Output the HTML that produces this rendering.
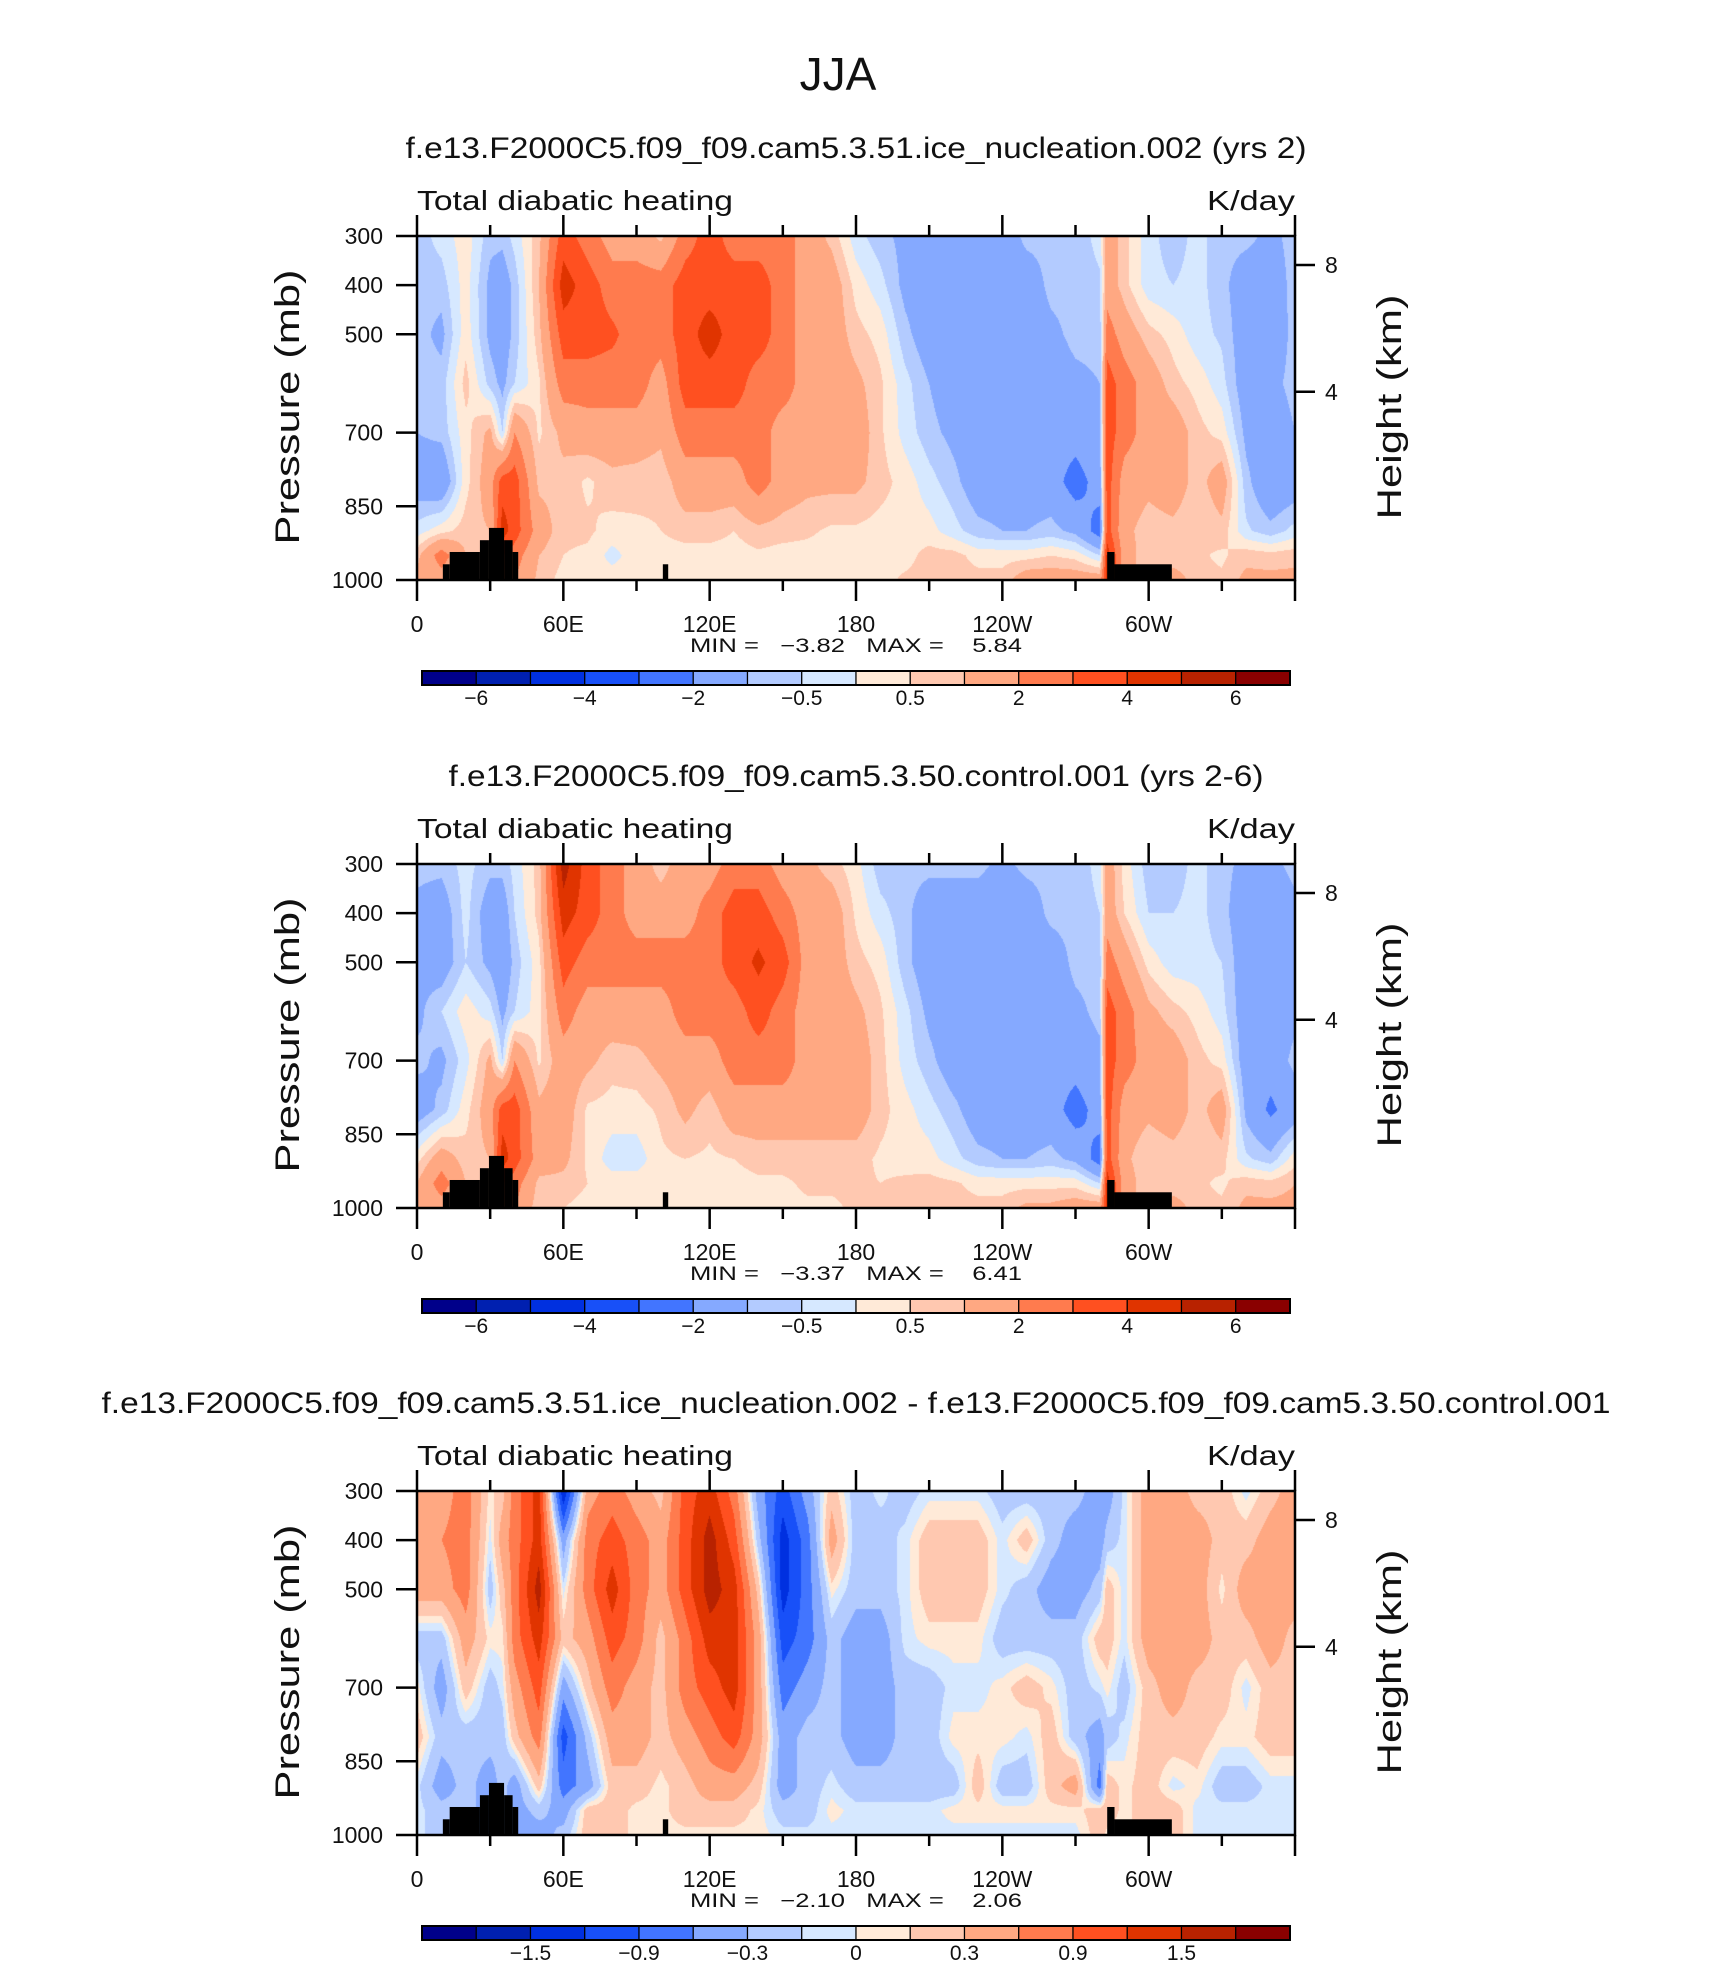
<!DOCTYPE html>
<html><head><meta charset="utf-8"><style>
html,body{margin:0;padding:0;background:#fff;}
#wrap{position:relative;width:1710px;height:1967px;overflow:hidden;}
canvas{position:absolute;}
svg{position:absolute;left:0;top:0;}
text{font-family:"Liberation Sans",sans-serif;fill:#111;}
</style></head><body>
<div id="wrap">
<canvas id="c0" width="878" height="344" style="left:417px;top:236px"></canvas>
<canvas id="c1" width="878" height="344" style="left:417px;top:864px"></canvas>
<canvas id="c2" width="878" height="344" style="left:417px;top:1491px"></canvas>
<svg id="s" width="1710" height="1967" xmlns="http://www.w3.org/2000/svg">
<text x="838" y="90" font-size="46" text-anchor="middle">JJA</text>
</svg>
</div>
<script>
const lons=[0,10,20,30,35,40,50,60,70,80,90,100,110,120,130,140,150,160,170,180,190,200,210,220,230,240,250,260,270,280,283,290,300,310,320,330,340,350,360];
const levs=[300,400,500,600,700,800,900,950,1000];
const panel1Cols=[
[-0.75,-0.75,-0.75,-0.75,-1.0,-1.5,-0.25,0.8,1.2],
[-0.3,-0.75,-1.2,-0.75,-0.8,-1.8,0.3,2.5,1.5],
[0.3,0.25,0.3,0.7,0.3,0.3,0.75,1,1],
[-0.8,-1.2,-1.2,-0.7,1.2,1.5,1,1,1],
[-0.8,-1.5,-1.5,-1.2,-0.5,3.5,4.5,3,3],
[-0.3,-0.8,-0.8,-0.5,2,3.5,3.5,2.5,2],
[0.8,1.0,0.8,0.4,0.4,0.8,1.5,1.0,0.8],
[3.5,4.5,3.5,2.5,1.2,0.8,0.6,0.5,0.3],
[2.5,3.5,3.5,2.5,1.5,0.4,0.6,0.4,0.3],
[1.5,2.5,3.2,2.5,1.5,0.8,0.3,-0.2,0.3],
[1.5,2.5,2.5,2.5,1.5,0.7,0.4,0.3,0.3],
[0.8,2.5,2.5,1.5,1.2,0.6,0.5,0.3,0.3],
[2.5,3.5,3.5,3.5,2.5,1.5,0.7,0.3,0.3],
[3.5,3.5,4.5,3.5,2.5,1.5,0.7,0.3,0.3],
[2.5,3.5,3.5,3.5,2.5,1.5,0.5,0.3,0.3],
[2.5,3.5,3.5,2.5,2.5,2.5,0.8,0.4,0.3],
[2.5,2.5,2.5,2.5,1.5,1.5,0.7,0.3,0.3],
[1.5,1.5,1.5,1.5,1.5,1.2,0.6,0.3,0.2],
[0.8,1.5,1.5,1.5,1.5,1.2,0.4,0.3,0.2],
[-0.3,0.3,0.7,1.2,1.5,1.2,0.4,0.3,0.2],
[-0.8,-0.3,0.3,0.6,0.6,0.7,0.3,0.3,0.3],
[-1.2,-1.2,-0.8,-0.3,-0.2,0.3,0.3,0.3,0.6],
[-1.5,-1.5,-1.5,-1.0,-0.8,-0.3,0.2,0.7,0.7],
[-1.5,-1.5,-1.5,-1.5,-1.2,-0.8,-0.3,0.7,0.7],
[-1.2,-1.5,-1.5,-1.5,-1.5,-1.5,-0.8,0.3,0.7],
[-1.5,-1.5,-1.5,-1.5,-1.5,-1.5,-1.0,0.3,0.7],
[-0.8,-1.5,-1.5,-1.5,-1.5,-1.5,-1.0,0.3,1.5],
[-0.8,-0.8,-1.2,-1.5,-1.5,-1.5,-0.8,0.5,1.5],
[-0.8,-0.8,-0.8,-1.2,-1.5,-2.5,-1.2,0.3,1.5],
[-0.3,-0.6,-0.8,-1.0,-1.2,-1.5,-2.5,-0.5,1.5],
[1.5,1.5,2.5,3.5,3.5,3.5,3.5,4.5,4.5],
[0.7,0.7,1.5,2.5,2.5,1.5,1.2,1.5,1.5],
[-0.3,-0.3,0.7,1.5,1.5,1.2,0.7,0.5,0.5],
[-0.8,-0.5,0.3,0.7,1.5,1.5,0.8,0.5,1.5],
[-0.3,-0.3,-0.3,0.3,0.7,0.7,0.5,0.6,0.6],
[-0.8,-0.8,-0.6,-0.3,0.3,1.5,0.8,0.4,0.6],
[-0.8,-1.5,-1.5,-1.5,-1.2,-0.8,-0.4,0.8,1.2],
[-1.2,-1.5,-1.5,-1.2,-1.5,-1.8,-0.8,0.7,1.2],
[-0.75,-0.75,-0.8,-0.8,-1.0,-1.5,-0.3,0.8,1.2]];
const panel2Cols=[
[-0.8,-1.2,-1.2,-1.2,-0.8,-1.5,0.3,1.0,1.2],
[-0.8,-1.5,-1.5,-0.5,-1.2,-0.8,1.5,2.5,1.5],
[-0.3,-0.3,-0.5,0.3,-0.2,0.3,0.7,1,1],
[-0.8,-1.5,-1.2,-0.3,1.2,1.5,1,1,1],
[-0.8,-1.5,-1.7,-1.2,-0.5,3.5,4.5,3,3],
[-0.3,-0.5,-0.8,-0.5,2,3.5,3.5,2.5,2],
[0.7,0.7,0.3,0.3,0.4,1.2,1.5,0.8,0.6],
[5.5,4.5,3.5,2.5,1.5,1.5,1.2,0.8,0.5],
[3.5,3.5,2.5,1.5,1.2,0.4,0.4,0.5,0.3],
[2.5,2.5,2.5,1.5,0.7,0.3,-0.3,0.3,0.3],
[1.5,1.5,2.5,1.5,0.8,0.3,-0.3,0.3,0.3],
[0.7,1.5,2.5,1.5,1.2,0.6,0.4,0.3,0.3],
[1.5,1.5,2.5,2.5,1.5,1.2,0.5,0.3,0.3],
[1.5,2.5,2.5,2.5,1.5,0.7,0.4,0.3,0.3],
[2.5,3.5,3.5,2.5,2.5,1.5,0.5,0.3,0.3],
[2.5,3.5,4.2,3.5,2.5,1.5,0.7,0.4,0.3],
[1.5,2.5,3.5,2.5,2.5,1.5,0.7,0.4,0.3],
[1.2,1.5,1.5,1.5,1.5,1.5,0.7,0.6,0.4],
[0.7,1.5,1.5,1.5,1.5,1.5,0.7,0.6,0.4],
[0.2,0.4,0.7,1.2,1.5,1.5,0.7,0.6,0.6],
[-0.8,-0.3,0.3,0.6,0.7,0.7,0.4,0.5,0.6],
[-0.8,-0.8,-0.8,-0.3,-0.2,0.2,0.3,0.6,0.6],
[-0.8,-1.5,-1.5,-1.2,-0.8,-0.3,0.2,0.7,0.7],
[-0.8,-1.5,-1.5,-1.5,-1.5,-0.8,-0.3,0.6,0.7],
[-0.8,-1.5,-1.5,-1.5,-1.5,-1.5,-0.8,0.3,0.7],
[-1.2,-1.5,-1.5,-1.5,-1.5,-1.5,-1.0,0.3,0.7],
[-0.8,-1.5,-1.5,-1.5,-1.5,-1.5,-1.0,0.3,1.2],
[-0.8,-0.8,-1.5,-1.5,-1.5,-1.5,-0.8,0.3,1.2],
[-0.8,-0.8,-0.8,-1.2,-1.5,-2.5,-1.2,0.3,1.5],
[-0.3,-0.5,-0.8,-0.8,-1.2,-1.5,-2.5,-0.5,1.5],
[1.5,1.5,2.5,3.5,3.5,3.5,3.5,4.5,4.5],
[0.3,0.5,1.5,2.5,2.5,1.5,1.2,1.5,1.5],
[-0.8,-0.5,0.3,1.2,1.5,1.2,0.5,0.5,0.5],
[-0.8,-0.5,-0.3,0.7,1.5,1.5,0.7,0.5,1.5],
[-0.3,-0.3,-0.3,0.3,0.7,0.7,0.5,0.6,0.6],
[-0.8,-0.8,-0.5,-0.3,0.3,1.5,0.7,0.4,0.6],
[-1.2,-1.5,-1.5,-1.5,-1.5,-1.2,-0.4,0.8,1.2],
[-1.2,-1.5,-1.5,-1.5,-1.5,-2.2,-0.8,0.7,1.2],
[-0.8,-1.2,-1.2,-1.2,-0.8,-1.5,0.3,1.0,1.2]];
const panel3Cols=[
[0.45,0.45,0.45,-0.2,0.05,0.2,-0.05,-0.05,-0.05],
[0.45,0.6,0.45,-0.2,-0.45,-0.2,-0.45,-0.2,-0.2],
[0.75,0.75,0.75,0.45,0.2,-0.2,-0.2,-0.2,-0.2],
[0.05,-0.05,-0.2,0.05,-0.2,-0.2,-0.45,-0.45,-0.45],
[0.2,0.45,0.2,0.05,-0.05,-0.2,-0.2,-0.2,-0.2],
[0.75,0.75,0.75,0.75,0.45,0.2,-0.45,-0.45,-0.45],
[1.35,1.35,1.65,1.35,1.05,0.75,0.2,-0.2,-0.45],
[-1.5,-0.45,-0.05,0.2,-0.45,-1.05,-0.75,-0.45,-0.2],
[0.45,0.75,0.75,0.45,0.2,-0.2,-0.45,0.2,0.2],
[0.75,1.05,1.35,1.05,0.75,0.45,0.2,0.2,0.2],
[0.45,0.75,0.75,0.75,0.45,0.45,0.2,0.05,0.05],
[0.2,0.45,0.45,0.2,0.2,0.2,0.05,0.05,0.05],
[1.05,1.05,1.05,0.75,0.75,0.45,0.2,0.2,0.05],
[1.35,1.65,1.65,1.35,1.05,0.75,0.45,0.2,0.05],
[0.75,1.05,1.35,1.35,1.35,1.05,0.45,0.2,0.05],
[-0.45,-0.2,0.2,0.45,0.45,0.45,0.2,0.05,0.05],
[-1.05,-1.35,-1.35,-1.05,-0.75,-0.45,-0.45,-0.2,-0.05],
[-0.45,-0.75,-0.75,-0.75,-0.45,-0.2,-0.2,-0.2,-0.05],
[0.2,0.45,0.05,-0.2,-0.2,-0.2,-0.05,0.05,-0.05],
[-0.2,-0.2,-0.2,-0.45,-0.45,-0.45,-0.2,-0.05,-0.05],
[-0.05,-0.2,-0.2,-0.45,-0.45,-0.45,-0.2,-0.05,-0.05],
[-0.2,-0.05,-0.05,-0.05,-0.2,-0.2,-0.2,-0.05,-0.05],
[-0.05,0.2,0.2,0.05,-0.2,-0.2,-0.2,-0.05,-0.05],
[-0.05,0.2,0.2,0.05,-0.05,0.05,-0.2,0.05,-0.05],
[-0.05,0.2,0.2,0.05,-0.05,0.05,0.2,0.05,-0.05],
[-0.2,-0.05,-0.05,-0.2,0.05,0.05,-0.2,0.05,-0.05],
[-0.2,0.2,-0.2,-0.2,0.2,-0.05,-0.2,0.05,-0.05],
[-0.2,-0.2,-0.45,-0.2,0.05,0.2,0.2,0.05,-0.05],
[-0.2,-0.45,-0.45,-0.2,-0.2,-0.2,0.45,0.05,-0.05],
[-0.45,-0.45,-0.2,0.2,-0.05,-0.45,-0.75,0.2,0.2],
[-0.45,-0.2,0.2,0.2,0.05,-0.2,0.2,0.2,0.05],
[-0.05,-0.05,-0.05,-0.05,-0.2,-0.05,0.05,0.05,0.05],
[0.45,0.45,0.45,0.45,0.2,0.2,0.2,0.2,0.2],
[0.45,0.45,0.45,0.45,0.45,0.2,-0.05,0.2,0.2],
[0.2,0.45,0.45,0.45,0.2,0.2,0.05,-0.05,-0.05],
[0.2,0.2,0.05,0.2,0.2,0.05,-0.2,-0.05,-0.05],
[-0.05,0.2,0.45,0.2,-0.05,0.05,-0.2,-0.05,-0.05],
[0.2,0.45,0.45,0.45,0.2,0.2,-0.05,-0.05,-0.05],
[0.45,0.45,0.45,0.2,0.2,0.2,-0.05,-0.05,-0.05]];
const orogStart=[10.6,13.4,25.8,29.5,35.7,39.2,100.8,283,286];
const orogEnd=[13.4,25.8,29.5,35.7,39.2,41.5,103,286,309.5];
const orogTopP=[968,943,919,894,919,943,968,943,968];
const thresholdsAbs=[-6,-5,-4,-3,-2,-1,-0.5,0,0.5,1,2,3,4,5,6];
const thresholdsDiff=[-1.8,-1.5,-1.2,-0.9,-0.6,-0.3,-0.1,0,0.1,0.3,0.6,0.9,1.2,1.5,1.8];
const cbLabelsAbs=["−6","−4","−2","−0.5","0.5","2","4","6"];
const cbLabelsDiff=["−1.5","−0.9","−0.3","0","0.3","0.9","1.5"];
const pTicks=[300,400,500,700,850,1000];
const heightTickP=[359,617];
const heightTickLabels=["8","4"];
const xTickLons=[0,60,120,180,240,300];
const xTickLabels=["0","60E","120E","180","120W","60W"];
const titles=["f.e13.F2000C5.f09_f09.cam5.3.51.ice_nucleation.002 (yrs 2)","f.e13.F2000C5.f09_f09.cam5.3.50.control.001 (yrs 2-6)","f.e13.F2000C5.f09_f09.cam5.3.51.ice_nucleation.002 - f.e13.F2000C5.f09_f09.cam5.3.50.control.001"];
const minVals=["−3.82","−3.37","−2.10"];
const maxVals=["5.84","6.41","2.06"];

const colors=["#00008a","#0020b0","#0030e0","#1850f8","#4275ff","#85a9ff","#b3cbff","#d6e8ff","#ffead8","#ffc8b0","#ffa882","#ff7b4e","#ff5020","#e03400","#b82200","#8a0000"];
const PL=417,PW=878,PH=344;
const tops=[236,864,1491];
const titleW=[901,815,1509];
function xS(lon){return PL+lon/360*PW;}
function yS(top,p){return top+(p-300)/700*PH;}
function idx(arr,v){let i=0;while(i<arr.length-2&&arr[i+1]<v)i++;return i;}
function val(cols,lon,p){
  const i=idx(lons,lon),j=idx(levs,p);
  const tx=Math.min(1,Math.max(0,(lon-lons[i])/(lons[i+1]-lons[i])));
  const ty=Math.min(1,Math.max(0,(p-levs[j])/(levs[j+1]-levs[j])));
  const a=cols[i][j],b=cols[i+1][j],c=cols[i][j+1],d=cols[i+1][j+1];
  return (a*(1-tx)+b*tx)*(1-ty)+(c*(1-tx)+d*tx)*ty;
}
function hex(h){return [parseInt(h.slice(1,3),16),parseInt(h.slice(3,5),16),parseInt(h.slice(5,7),16)];}
const rgb=colors.map(hex);
function drawPanel(k,cols,thr){
  const cv=document.getElementById('c'+k),ctx=cv.getContext('2d');
  const img=ctx.createImageData(PW,PH);
  for(let y=0;y<PH;y++){
    const p=300+(y+0.5)/PH*700;
    for(let x=0;x<PW;x++){
      const lon=(x+0.5)/PW*360;
      const v=val(cols,lon,p);
      let c=0;while(c<thr.length&&v>thr[c])c++;
      const o=(y*PW+x)*4,q=rgb[c];
      img.data[o]=q[0];img.data[o+1]=q[1];img.data[o+2]=q[2];img.data[o+3]=255;
    }
  }
  ctx.putImageData(img,0,0);
}
drawPanel(0,panel1Cols,thresholdsAbs);
drawPanel(1,panel2Cols,thresholdsAbs);
drawPanel(2,panel3Cols,thresholdsDiff);

const svg=document.getElementById('s');
const NS='http://www.w3.org/2000/svg';
function mk(tag,attrs,txt){const e=document.createElementNS(NS,tag);for(const k in attrs)e.setAttribute(k,attrs[k]);if(txt!==undefined)e.textContent=txt;svg.appendChild(e);return e;}

for(let k=0;k<3;k++){
  const top=tops[k],bot=top+PH;
  let e;
  e=mk('text',{x:856,y:top-78,'font-size':30,'text-anchor':'middle',textLength:titleW[k],lengthAdjust:'spacingAndGlyphs'},titles[k]);
  
  
  e=mk('text',{x:PL,y:top-26,'font-size':28,textLength:316,lengthAdjust:'spacingAndGlyphs'},'Total diabatic heating');
  
  
  e=mk('text',{x:PL+PW,y:top-26,'font-size':28,'text-anchor':'end',textLength:88,lengthAdjust:'spacingAndGlyphs'},'K/day');
  
  
  for(let i=0;i<orogStart.length;i++){
    e=mk('rect',{x:xS(orogStart[i]),y:yS(top,orogTopP[i]),width:xS(orogEnd[i])-xS(orogStart[i]),height:bot-yS(top,orogTopP[i]),fill:'#000'});
    
    
  }
  e=mk('rect',{x:PL,y:top,width:PW,height:PH,fill:'none',stroke:'#000','stroke-width':2.5});
  
  
  for(let lon=0;lon<=360;lon+=30){
    const L=(lon%60===0)?21:11,x=xS(lon);
    e=mk('line',{x1:x,x2:x,y1:bot,y2:bot+L,stroke:'#000','stroke-width':2.5});
    
    
    e=mk('line',{x1:x,x2:x,y1:top,y2:top-L,stroke:'#000','stroke-width':2.5});
    
    
  }
  for(let i=0;i<xTickLons.length;i++){
    e=mk('text',{x:xS(xTickLons[i]),y:bot+52,'font-size':23,'text-anchor':'middle'},xTickLabels[i]);
    
    
  }
  for(let i=0;i<pTicks.length;i++){
    const y=yS(top,pTicks[i]);
    e=mk('line',{x1:PL-21,x2:PL,y1:y,y2:y,stroke:'#000','stroke-width':2.5});
    
    
    e=mk('text',{x:383,y:y+8,'font-size':23,'text-anchor':'end'},String(pTicks[i]));
    
    
  }
  for(let i=0;i<heightTickP.length;i++){
    const y=yS(top,heightTickP[i]);
    e=mk('line',{x1:PL+PW,x2:PL+PW+20,y1:y,y2:y,stroke:'#000','stroke-width':2.5});
    
    
    e=mk('text',{x:PL+PW+30,y:y+8,'font-size':23},heightTickLabels[i]);
    
    
  }
  const mid=top+PH/2;
  e=mk('text',{x:0,y:0,'font-size':34,'text-anchor':'middle',textLength:275,lengthAdjust:'spacingAndGlyphs',transform:`translate(299,${mid-1}) rotate(-90)`},'Pressure (mb)');
  
  
  e=mk('text',{x:0,y:0,'font-size':34,'text-anchor':'middle',textLength:225,lengthAdjust:'spacingAndGlyphs',transform:`translate(1401,${mid-1}) rotate(-90)`},'Height (km)');
  
  
  e=mk('text',{x:690,y:bot+72,'font-size':19,textLength:332,lengthAdjust:'spacingAndGlyphs',style:'white-space:pre'},'MIN =   '+minVals[k]+'   MAX =    '+maxVals[k]);
  
  
  const cx0=422,cw=868/16,cy=bot+91,ch=14;
  for(let i=0;i<16;i++){
    e=mk('rect',{x:cx0+i*cw,y:cy,width:cw,height:ch,fill:colors[i],stroke:'#000','stroke-width':1.2});
    
    
  }
  e=mk('rect',{x:cx0,y:cy,width:868,height:ch,fill:'none',stroke:'#000','stroke-width':2});
  
  
  const labs=k<2?cbLabelsAbs:cbLabelsDiff;
  for(let i=0;i<labs.length;i++){
    const b=k<2?1+2*i:2+2*i;
    e=mk('text',{x:cx0+b*cw,y:cy+34,'font-size':21,'text-anchor':'middle'},labs[i]);
    
    
  }
}
</script>
</body></html>
